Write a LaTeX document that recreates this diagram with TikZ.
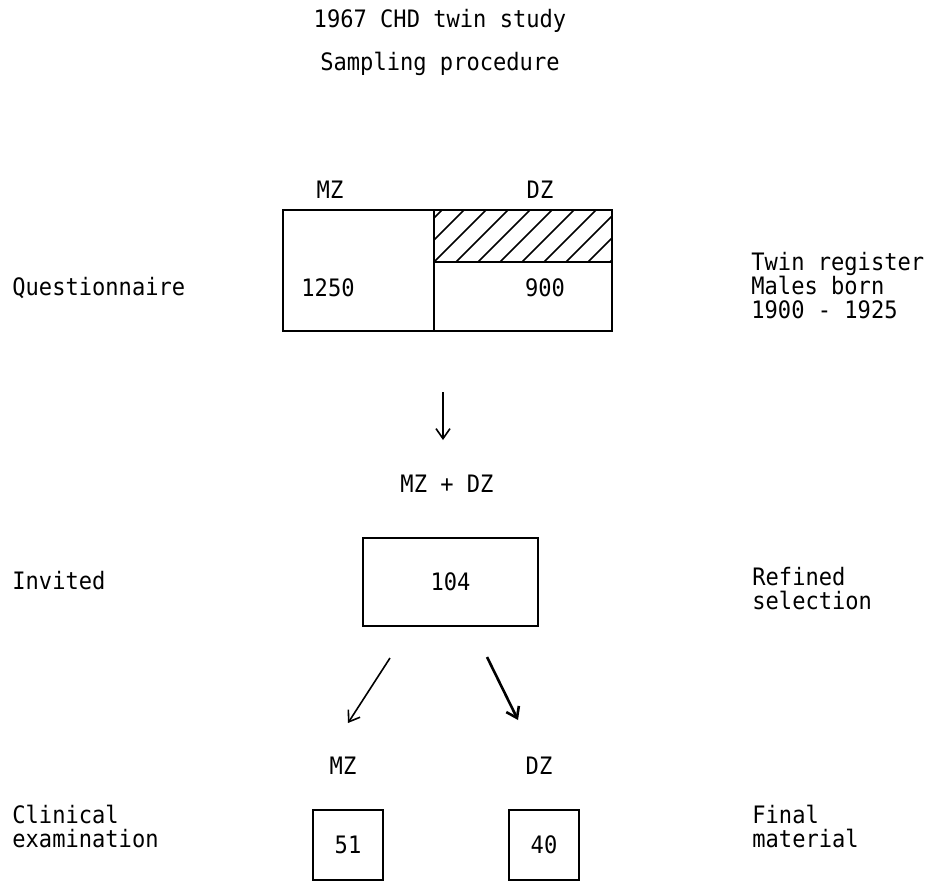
\documentclass[tikz,border=0pt]{standalone}
\usepackage{fontspec}
\setmainfont{DejaVu Sans Mono}[FakeStretch=0.92]
\usetikzlibrary{arrows.meta}

\tikzset{
    txt/.style={inner sep=0pt, font=\fontsize{12}{12}\selectfont},
    side/.style={txt, anchor=west, align=left},
    cell/.style={draw, line width=1pt, inner sep=0pt, font=\fontsize{12}{12}\selectfont}
}

\begin{document}
\begin{tikzpicture}[x=0.5pt, y=-0.5pt, >={Straight Barb[length=5pt,width=7pt]}]
    \useasboundingbox (0,0) rectangle (938,884);

    % headings
    \node[txt] (title) at (440,21) {1967 CHD twin study};
    \node[txt] (proc) at (440,64) {Sampling procedure};

    % questionnaire table
    \node[txt] (mzq) at (330,190) {MZ};
    \node[txt] (dzq) at (540,190) {DZ};
    \begin{scope}
        \clip (434,210) rectangle (612,262);
        \foreach \x in {390,412,...,610}
            \draw[line width=0.8pt] (\x,262) -- ++(52,-52);
    \end{scope}
    \draw[line width=1pt] (283,210) rectangle (612,331);
    \draw[line width=1pt] (434,210) -- (434,331);
    \draw[line width=1pt] (434,262) -- (612,262);
    \node[txt] (n1250) at (328,288) {1250};
    \node[txt] (n900) at (545,288) {900};

    \node[side] (quest) at (12,288) {Questionnaire};
    \node[side] (reg) at (751,286) {Twin register\\Males born\\1900 - 1925};

    % invited
    \coordinate (a0) at (443,392);
    \coordinate (a1) at (443,440);
    \draw[->, line width=0.8pt] (a0) -- (a1);
    \node[txt] (both) at (447,484) {MZ + DZ};
    \node[cell, minimum width=87.5pt, minimum height=44pt] (inv) at (450.5,582) {104};
    \node[side] (invited) at (12,581) {Invited};
    \node[side] (refined) at (752,589) {Refined\\selection};

    % split
    \coordinate (l0) at (390,658);
    \coordinate (l1) at (348,723);
    \coordinate (r0) at (487,657);
    \coordinate (r1) at (518,720);
    \draw[->, line width=0.8pt] (l0) -- (l1);
    \draw[->, line width=1.3pt] (r0) -- (r1);
    \node[txt] (mzc) at (343,766) {MZ};
    \node[txt] (dzc) at (539,766) {DZ};

    % clinical examination
    \node[cell, minimum width=35pt, minimum height=35pt] (mzn) at (348,845) {51};
    \node[cell, minimum width=35pt, minimum height=35pt] (dzn) at (544,845) {40};
    \node[side] (clin) at (12,826) {Clinical\\examination};
    \node[side] (final) at (752,826) {Final\\material};
\end{tikzpicture}
\end{document}
